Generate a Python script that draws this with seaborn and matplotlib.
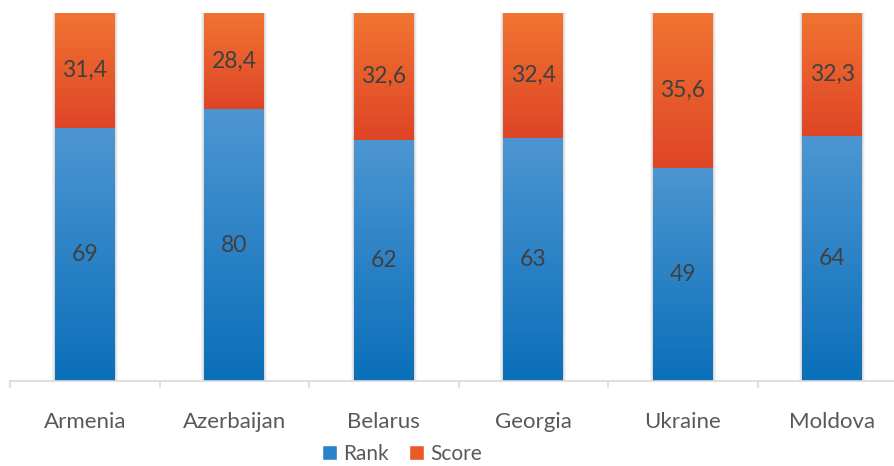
import numpy as np
import pandas as pd
import matplotlib
matplotlib.use("Agg")
import matplotlib.pyplot as plt
import seaborn as sns
from matplotlib.colors import LinearSegmentedColormap
from matplotlib.patches import Patch, Rectangle
from matplotlib.ticker import FixedLocator

countries = ["Armenia", "Azerbaijan", "Belarus", "Georgia", "Ukraine", "Moldova"]
rank = [69, 80, 62, 63, 49, 64]
score = [31.4, 28.4, 32.6, 32.4, 35.6, 32.3]

BLUE_TOP, BLUE_BOT = "#4d96d2", "#0a6fb9"
ORANGE_TOP, ORANGE_BOT = "#f27431", "#de4527"
TEXT = "#404040"
AXIS = "#d9d9d9"

sns.set_theme(style="white")
plt.rcParams["font.family"] = ["Lato", "DejaVu Sans"]

df = pd.DataFrame({"country": countries, "rank": rank, "score": score})
df["total"] = df["rank"] + df["score"]
df["rank_share"] = df["rank"] / df["total"] * 100
df["full"] = 100.0

W, H = 894, 466
fig = plt.figure(figsize=(W / 100, H / 100), dpi=100)
ax = fig.add_axes([10 / W, (H - 381) / H, 897 / W, 368 / H])

bar_w = 0.4
sns.barplot(data=df, x="country", y="full", color=ORANGE_TOP, width=bar_w, ax=ax)
n_orange = len(ax.patches)
sns.barplot(data=df, x="country", y="rank_share", color=BLUE_TOP, width=bar_w, ax=ax)
orange_bars = ax.patches[:n_orange]
blue_bars = ax.patches[n_orange:]

blue_cmap = LinearSegmentedColormap.from_list("b", [BLUE_BOT, BLUE_TOP])
orange_cmap = LinearSegmentedColormap.from_list("o", [ORANGE_BOT, ORANGE_TOP])
grad = np.linspace(0, 1, 256).reshape(-1, 1)
px = 1.0 / 149.5  # one pixel in x data units


def fill_gradient(bar, y0, y1, cmap, z):
    x0 = bar.get_x()
    x1 = x0 + bar.get_width()
    bar.set_facecolor("none")
    bar.set_edgecolor("none")
    im = ax.imshow(grad, cmap=cmap, origin="lower", aspect="auto",
                   extent=(x0, x1, y0, y1), zorder=z, interpolation="bicubic")
    im.set_clip_path(bar)


for i, (ob, bb) in enumerate(zip(orange_bars, blue_bars)):
    share = df["rank_share"].iloc[i]
    # soft shadow around the stacked column
    for k, a in [(3, 0.06), (2, 0.08), (1, 0.12)]:
        ax.add_patch(Rectangle((ob.get_x() - k * px, 0), ob.get_width() + 2 * k * px,
                               100, facecolor="#606060", alpha=a,
                               edgecolor="none", zorder=1, clip_on=False))
    fill_gradient(ob, share, 100, orange_cmap, 2)
    fill_gradient(bb, 0, share, blue_cmap, 3)
    ax.text(i, share / 2, f"{rank[i]}", ha="center", va="center",
            fontsize=16.5, color=TEXT, zorder=5)
    ax.text(i, (share + 100) / 2, f"{score[i]:.1f}".replace(".", ","),
            ha="center", va="center", fontsize=16.5, color=TEXT, zorder=5)

ax.set_xlim(-0.5, 5.5)
ax.set_ylim(0, 100)
ax.set_xlabel("")
ax.set_ylabel("")
ax.set_yticks([])
for s in ["left", "top", "right"]:
    ax.spines[s].set_visible(False)
ax.spines["bottom"].set_color(AXIS)
ax.spines["bottom"].set_linewidth(1.2)
ax.spines["bottom"].set_zorder(6)
ax.xaxis.set_minor_locator(FixedLocator(np.arange(-0.5, 6.0, 1.0)))
ax.tick_params(axis="x", which="major", length=0, pad=22, labelsize=16,
               labelcolor="#595959")
ax.tick_params(axis="x", which="minor", length=5, width=1.2, color=AXIS,
               direction="out", bottom=True)

handles = [Patch(facecolor="#2a83c8", label="Rank"),
           Patch(facecolor="#ea5a26", label="Score")]
fig.legend(handles=handles, loc="center", bbox_to_anchor=(402 / W, 1 - 454 / H),
           ncol=2, frameon=False, fontsize=15, labelcolor="#595959",
           handlelength=0.7, handleheight=0.7, handletextpad=0.3,
           columnspacing=1.0, borderaxespad=0, borderpad=0)

fig.savefig("out.png", dpi=100)
